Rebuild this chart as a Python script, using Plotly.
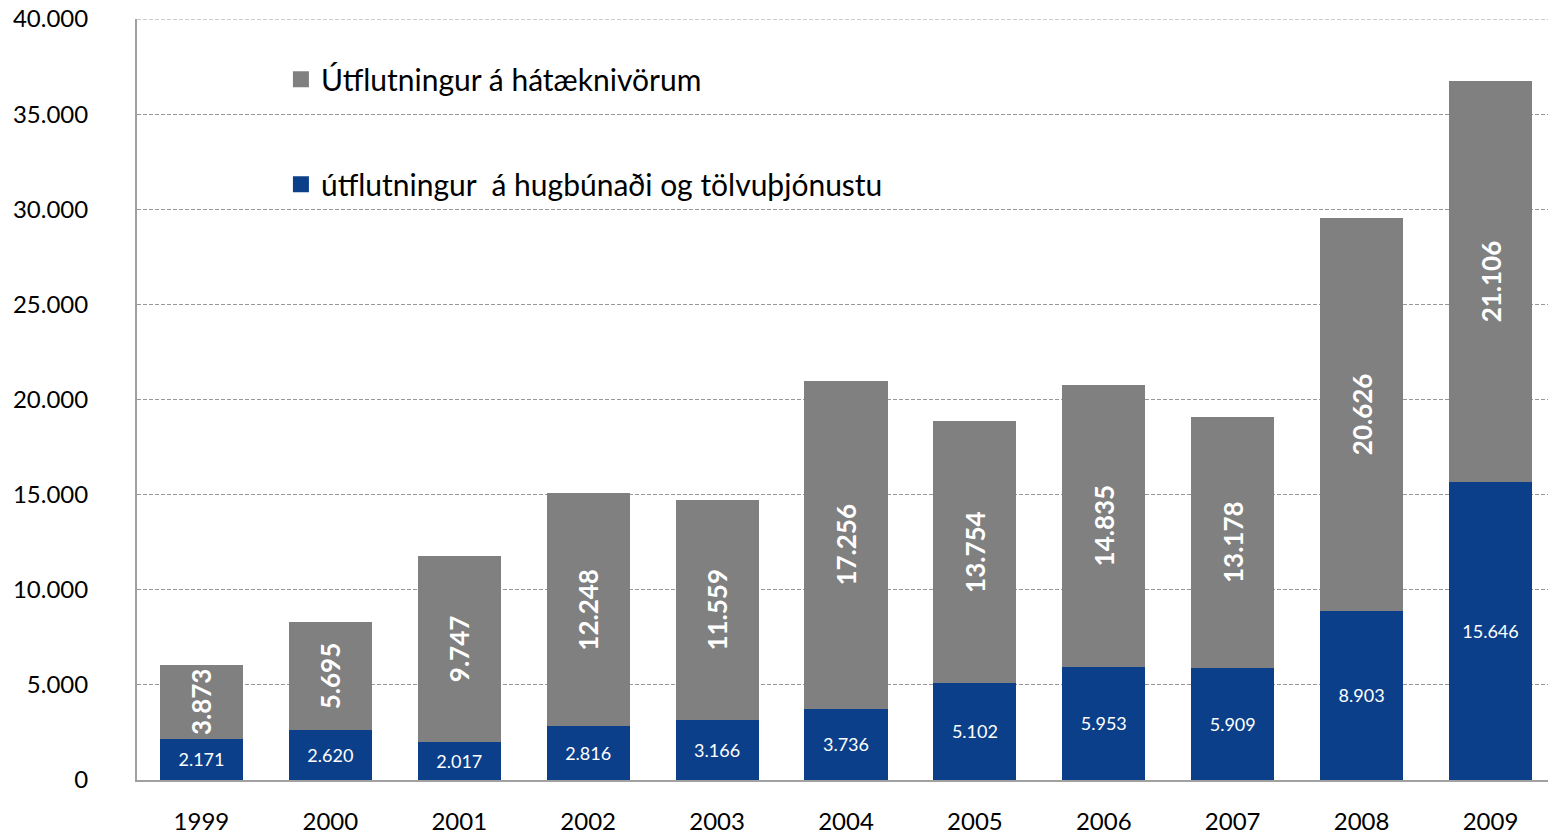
import plotly.graph_objects as go

years = ["1999", "2000", "2001", "2002", "2003", "2004", "2005", "2006", "2007", "2008", "2009"]
software = [2171, 2620, 2017, 2816, 3166, 3736, 5102, 5953, 5909, 8903, 15646]
hightech = [3873, 5695, 9747, 12248, 11559, 17256, 13754, 14835, 13178, 20626, 21106]
name_software = "útflutningur  á hugbúnaði og tölvuþjónustu"
name_hightech = "Útflutningur á hátæknivörum"
y_ticks = [0, 5000, 10000, 15000, 20000, 25000, 30000, 35000, 40000]

FONT = "Lato, Calibri, Arial, sans-serif"
BLUE = "#0B3F8A"
GREY = "#808080"
GRID = "#999999"
DASH = "4px,2px"

fig = go.Figure()
fig.add_trace(go.Bar(
    x=years, y=software, name=name_software, showlegend=False,
    marker=dict(color=BLUE, line=dict(width=0)),
    texttemplate="%{y:,.0f}", textposition="inside", insidetextanchor="middle",
    textangle=0, textfont=dict(color="white", size=18, family=FONT),
    constraintext="none",
))
fig.add_trace(go.Bar(
    x=years, y=hightech, name=name_hightech, showlegend=False,
    marker=dict(color=GREY, line=dict(width=0)),
    texttemplate="<b>%{y:,.0f}</b>", textposition="inside", insidetextanchor="middle",
    textangle=-90, textfont=dict(color="white", size=26, family=FONT),
    constraintext="none",
))
# legend entries (square swatches)
for nm, col, grp in [(name_hightech, GREY, "a"), (name_software, BLUE, "b")]:
    fig.add_trace(go.Scatter(
        x=[None], y=[None], mode="markers", name=nm, legendgroup=grp,
        marker=dict(symbol="square", size=19, color=col),
    ))

fig.update_layout(
    barmode="stack",
    bargap=0.355,
    separators=",.",
    width=1548, height=835,
    margin=dict(l=137, r=0, t=19, b=55, autoexpand=False),
    plot_bgcolor="white", paper_bgcolor="white",
    font=dict(family=FONT, color="black", size=24),
    showlegend=True,
    legend=dict(
        x=0.102, y=0.955, xanchor="left", yanchor="top",
        traceorder="grouped", tracegroupgap=63,
        font=dict(size=30, family=FONT, color="black"),
        bgcolor="rgba(0,0,0,0)", itemwidth=30,
    ),
    shapes=[dict(
        type="line", xref="paper", yref="y", x0=0, x1=1, y0=y_ticks[-1], y1=y_ticks[-1],
        line=dict(color=GRID, width=1, dash=DASH), layer="below",
    )],
)
fig.update_xaxes(
    range=[-0.5, 10.446],
    showline=True, linecolor="#A0A0A0", linewidth=2,
    ticks="", tickfont=dict(size=24), ticklabelstandoff=19,
)
fig.update_yaxes(
    range=[0, 40000], tickvals=y_ticks, tickformat=",.0f",
    showline=True, linecolor="#A0A0A0", linewidth=2,
    showgrid=True, gridcolor=GRID, griddash=DASH, gridwidth=1,
    zeroline=False, ticks="", tickfont=dict(size=24), ticklabelstandoff=42,
    ticklabeloverflow="allow",
)

fig.write_html("out.html", config={"displayModeBar": False},
               post_script="document.body.style.margin='0px';")
